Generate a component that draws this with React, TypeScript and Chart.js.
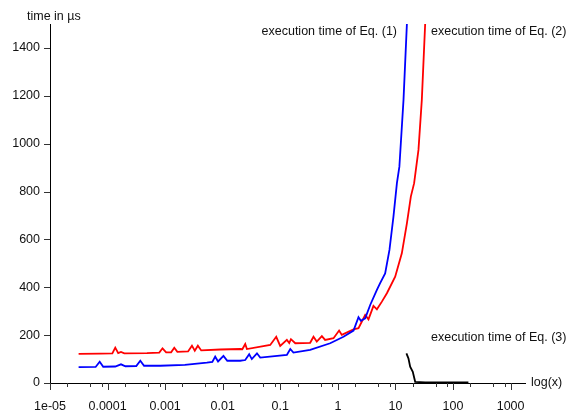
import React, { useEffect, useRef } from "react";
import { Chart, registerables } from "chart.js";

Chart.register(...registerables);

// ---- data ----
const eq1X = [3.14e-5, 6.2e-5, 7.3e-5, 8.4e-5, 1.36e-4, 1.71e-4, 2.04e-4, 3.15e-4, 3.7e-4, 4.3e-4, 8.2e-4, 2.2e-3, 5.3e-3, 6.6e-3, 7.4e-3, 8.3e-3, 1.03e-2, 1.2e-2, 2.01e-2, 2.46e-2, 2.88e-2, 3.2e-2, 3.93e-2, 4.48e-2, 0.13, 0.149, 0.169, 0.33, 0.735, 1.25, 1.87, 2.28, 2.51, 2.98, 3.64, 4.76, 5.42, 6.62, 7.87, 9.23, 10.6, 11.7, 13.8, 15.8];
const eq1Y = [66, 67, 89, 68, 69, 78, 70, 71, 93, 72, 72, 76, 85, 88, 110, 90, 113, 93, 93, 96, 120, 100, 124, 106, 117, 142, 127, 138, 166, 193, 219, 275, 260, 270, 326, 389, 417, 458, 556, 695, 835, 904, 1183, 1500];

const eq2X = [3.14e-5, 7.5e-5, 1.21e-4, 1.36e-4, 1.53e-4, 1.71e-4, 1.95e-4, 4.83e-4, 7.9e-4, 9.0e-4, 1.04e-3, 1.27e-3, 1.44e-3, 1.63e-3, 2.5e-3, 2.92e-3, 3.27e-3, 3.7e-3, 4.23e-3, 9.1e-3, 2.01e-2, 2.19e-2, 2.46e-2, 2.63e-2, 6.68e-2, 8.5e-2, 9.96e-2, 0.13, 0.143, 0.153, 0.182, 0.33, 0.377, 0.43, 0.527, 0.6, 0.84, 1.05, 1.17, 1.87, 2.28, 2.98, 3.4, 4.15, 4.76, 5.81, 7.1, 9.89, 12.9, 15.8, 18.5, 21.1, 25.1, 28.7, 32.8];
const eq2Y = [122, 123, 124, 148, 125, 130, 124, 125, 127, 145, 128, 128, 147, 130, 132, 156, 135, 156, 136, 140, 142, 141, 163, 142, 159, 193, 155, 180, 167, 183, 166, 168, 193, 173, 196, 180, 187, 219, 201, 224, 229, 284, 266, 322, 308, 340, 375, 444, 542, 667, 779, 835, 974, 1183, 1500];

const eq3X = [15.5, 16.8, 18.0, 20.0, 22.0, 32.8, 185];
const eq3Y = [124, 103, 68, 47, 5, 2, 2];

const decadeValues = [1e-5, 1e-4, 1e-3, 1e-2, 0.1, 1, 10, 100, 1000];
const decadeLabels = ["1e-05", "0.0001", "0.001", "0.01", "0.1", "1", "10", "100", "1000"];
const minorFactors = [2, 5, 8];
const yTickValues = [0, 200, 400, 600, 800, 1000, 1200, 1400];

const seriesNames = ["execution time of Eq. (1)", "execution time of Eq. (2)", "execution time of Eq. (3)"];
const seriesColors = ["#0000ff", "#ff0000", "#000000"];
const yTitle = "time in µs";
const xTitle = "log(x)";

const X_MIN = 1e-5;
const X_MAX = 1778;
const Y_MIN = 0;
const Y_MAX = 1500;

const FONT = '"Liberation Sans", Arial, Helvetica, sans-serif';
const FONT_SIZE = 12.5;

function toPoints(xs: number[], ys: number[]) {
  return xs.map((x, i) => ({ x, y: ys[i] }));
}

function isDecade(v: number) {
  const l = Math.log10(v);
  return Math.abs(l - Math.round(l)) < 1e-6;
}

const overlayPlugin = {
  id: "overlay",
  afterDraw(chart: any) {
    const ctx = chart.ctx as CanvasRenderingContext2D;
    const area = chart.chartArea;
    const xs = chart.scales.x;
    const ys = chart.scales.y;
    ctx.save();
    // y ticks
    ctx.strokeStyle = "#333";
    ctx.lineWidth = 1;
    ctx.beginPath();
    for (const v of yTickValues) {
      const py = Math.round(ys.getPixelForValue(v)) + 0.5;
      ctx.moveTo(area.left - 6, py);
      ctx.lineTo(area.left, py);
    }
    // x ticks
    const xTicks: { v: number; major: boolean }[] = [];
    for (const d of decadeValues) {
      xTicks.push({ v: d, major: true });
      for (const f of minorFactors) {
        if (d * f <= X_MAX) xTicks.push({ v: d * f, major: false });
      }
    }
    for (const t of xTicks) {
      const px = Math.round(xs.getPixelForValue(t.v)) + 0.5;
      const len = t.major ? 7 : 4;
      ctx.moveTo(px, area.bottom);
      ctx.lineTo(px, area.bottom + len);
    }
    ctx.stroke();

    // texts
    ctx.fillStyle = "#111";
    ctx.font = `${FONT_SIZE}px ${FONT}`;
    ctx.textBaseline = "middle";
    ctx.textAlign = "left";
    ctx.fillText(yTitle, area.left - 23, area.top - 7);
    ctx.fillText(xTitle, area.right + 6, area.bottom);
    ctx.textAlign = "right";
    ctx.fillText(seriesNames[0], area.left + 347, area.top + 8);
    ctx.textAlign = "left";
    ctx.fillText(seriesNames[1], area.left + 381, area.top + 8);
    ctx.fillText(seriesNames[2], area.left + 381, ys.getPixelForValue(190));
    ctx.restore();
  },
};

export default function App() {
  const ref = useRef<HTMLCanvasElement | null>(null);
  useEffect(() => {
    const canvas = ref.current;
    if (!canvas) return;
    const tickFont = { family: FONT, size: FONT_SIZE };
    const chart = new Chart(canvas, {
      type: "line",
      data: {
        datasets: [
          { label: seriesNames[0], data: toPoints(eq1X, eq1Y), borderColor: seriesColors[0], backgroundColor: seriesColors[0] },
          { label: seriesNames[1], data: toPoints(eq2X, eq2Y), borderColor: seriesColors[1], backgroundColor: seriesColors[1] },
          { label: seriesNames[2], data: toPoints(eq3X, eq3Y), borderColor: seriesColors[2], backgroundColor: seriesColors[2] },
        ],
      },
      options: {
        responsive: false,
        animation: false,
        devicePixelRatio: 1,
        layout: { padding: { top: 24, right: 44, left: 0, bottom: 0 } },
        plugins: { legend: { display: false }, tooltip: { enabled: false } },
        elements: { point: { radius: 0 }, line: { borderWidth: 1.8, tension: 0 } },
        scales: {
          x: {
            type: "logarithmic",
            min: X_MIN,
            max: X_MAX,
            afterFit: (s: any) => {
              s.height = 31;
            },
            afterBuildTicks: (s: any) => {
              s.ticks = decadeValues.map((v) => ({ value: v, major: true }));
            },
            ticks: {
              autoSkip: false,
              maxRotation: 0,
              minRotation: 0,
              padding: 10,
              color: "#111",
              font: tickFont,
              callback: (v: any) => {
                const val = Number(v);
                if (!isDecade(val)) return "";
                const idx = decadeValues.findIndex((d) => Math.abs(Math.log10(d) - Math.log10(val)) < 1e-6);
                return idx >= 0 ? decadeLabels[idx] : "";
              },
            },
            grid: { display: true, drawOnChartArea: false, drawTicks: true, tickLength: 6, color: "rgba(0,0,0,0)" },
            border: { display: true, color: "#000", width: 1 },
          },
          y: {
            type: "linear",
            min: Y_MIN,
            max: Y_MAX,
            afterFit: (s: any) => {
              s.width = 50;
            },
            afterBuildTicks: (s: any) => {
              s.ticks = yTickValues.map((v) => ({ value: v }));
            },
            ticks: {
              autoSkip: false,
              padding: 4,
              color: "#111",
              font: tickFont,
              callback: (v: any) => String(v),
            },
            grid: { display: true, drawOnChartArea: false, drawTicks: true, tickLength: 6, color: "rgba(0,0,0,0)" },
            border: { display: true, color: "#000", width: 1 },
          },
        },
      },
      plugins: [overlayPlugin],
    } as any);
    return () => chart.destroy();
  }, []);
  return (
    <div style={{ position: "absolute", left: 0, top: 0, width: 569, height: 414, background: "#fff" }}>
      <canvas ref={ref} width={569} height={414} style={{ display: "block", width: 569, height: 414 }} />
    </div>
  );
}
